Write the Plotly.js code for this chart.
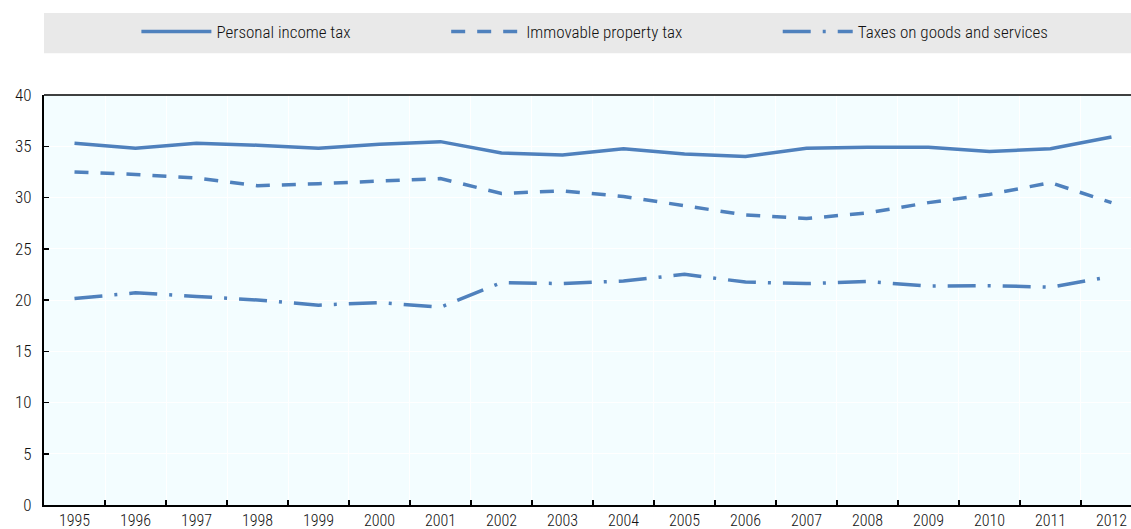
<!DOCTYPE html>
<html>
<head>
<meta charset="utf-8">
<script src="https://cdn.plot.ly/plotly-3.0.1.min.js"></script>
<style>html,body{margin:0;padding:0;background:#fff;}#chart{width:1131px;height:529px;}</style>
</head>
<body>
<div id="chart"></div>
<script>
var years = ["1995","1996","1997","1998","1999","2000","2001","2002","2003","2004","2005","2006","2007","2008","2009","2010","2011","2012"];
var personalIncomeTax = [35.3,34.8,35.3,35.1,34.8,35.2,35.45,34.35,34.15,34.75,34.25,34.0,34.8,34.9,34.9,34.5,34.75,35.9];
var immovablePropertyTax = [32.5,32.25,31.9,31.15,31.35,31.6,31.85,30.4,30.65,30.1,29.2,28.3,27.95,28.5,29.5,30.3,31.45,29.5];
var taxesGoodsServices = [20.15,20.7,20.35,20.0,19.5,19.75,19.3,21.7,21.6,21.85,22.5,21.75,21.6,21.8,21.35,21.4,21.25,22.3];
var seriesNames = ["Personal income tax","Immovable property tax","Taxes on goods and services"];

var FONT = "'Roboto Condensed', 'Arial Narrow', sans-serif";
var COLOR = "#4f81bd";
var TEXTCOLOR = "#111";

var traces = [
  {x: years, y: personalIncomeTax, name: seriesNames[0], type: "scatter", mode: "lines",
   line: {color: COLOR, width: 3.5, dash: "solid"}, legend: "legend"},
  {x: years, y: immovablePropertyTax, name: seriesNames[1], type: "scatter", mode: "lines",
   line: {color: COLOR, width: 3.5, dash: "14px,12px"}, legend: "legend2"},
  {x: years, y: taxesGoodsServices, name: seriesNames[2], type: "scatter", mode: "lines",
   line: {color: COLOR, width: 3.5, dash: "28px,12px,3px,12px"}, legend: "legend3"}
];

var legendCommon = {orientation: "h", yanchor: "middle", y: 1.1537, xanchor: "left",
  bgcolor: "rgba(0,0,0,0)", font: {family: FONT, size: 17, color: TEXTCOLOR, weight: 300}, itemwidth: 70};

var layout = {
  width: 1131, height: 529,
  margin: {l: 44, r: 0, t: 95, b: 24},
  paper_bgcolor: "#ffffff",
  plot_bgcolor: "#f3fdff",
  font: {family: FONT, size: 16, color: TEXTCOLOR, weight: 300},
  showlegend: true,
  legend: Object.assign({}, legendCommon, {x: 0.085}),
  legend2: Object.assign({}, legendCommon, {x: 0.37}),
  legend3: Object.assign({}, legendCommon, {x: 0.675}),
  xaxis: {
    type: "category", range: [-0.5, 17.32], tickson: "boundaries",
    ticks: "inside", ticklen: 5, tickwidth: 1.5, tickcolor: "#000",
    showline: true, linecolor: "#000", linewidth: 2,
    showgrid: true, gridcolor: "#ffffff", gridwidth: 1,
    tickfont: {family: FONT, size: 16, color: TEXTCOLOR, weight: 300}, fixedrange: true
  },
  yaxis: {
    range: [0, 40], dtick: 5, tick0: 0,
    ticks: "inside", ticklen: 5, tickwidth: 1.5, tickcolor: "#000",
    showline: true, linecolor: "#000", linewidth: 2, ticklabelstandoff: 7,
    showgrid: true, gridcolor: "#ffffff", gridwidth: 1, zeroline: false,
    tickfont: {family: FONT, size: 17, color: TEXTCOLOR, weight: 300}, fixedrange: true
  },
  shapes: [
    {type: "rect", xref: "paper", yref: "paper", x0: 0, x1: 1, y0: 1.102, y1: 1.2,
     fillcolor: "#e9e9e9", line: {width: 0}, layer: "below"},
    {type: "line", xref: "paper", yref: "paper", x0: 0, x1: 1, y0: 1, y1: 1,
     line: {color: "#000", width: 1.5}}
  ]
};

Plotly.newPlot("chart", traces, layout, {displayModeBar: false, staticPlot: true});
</script>
</body>
</html>
